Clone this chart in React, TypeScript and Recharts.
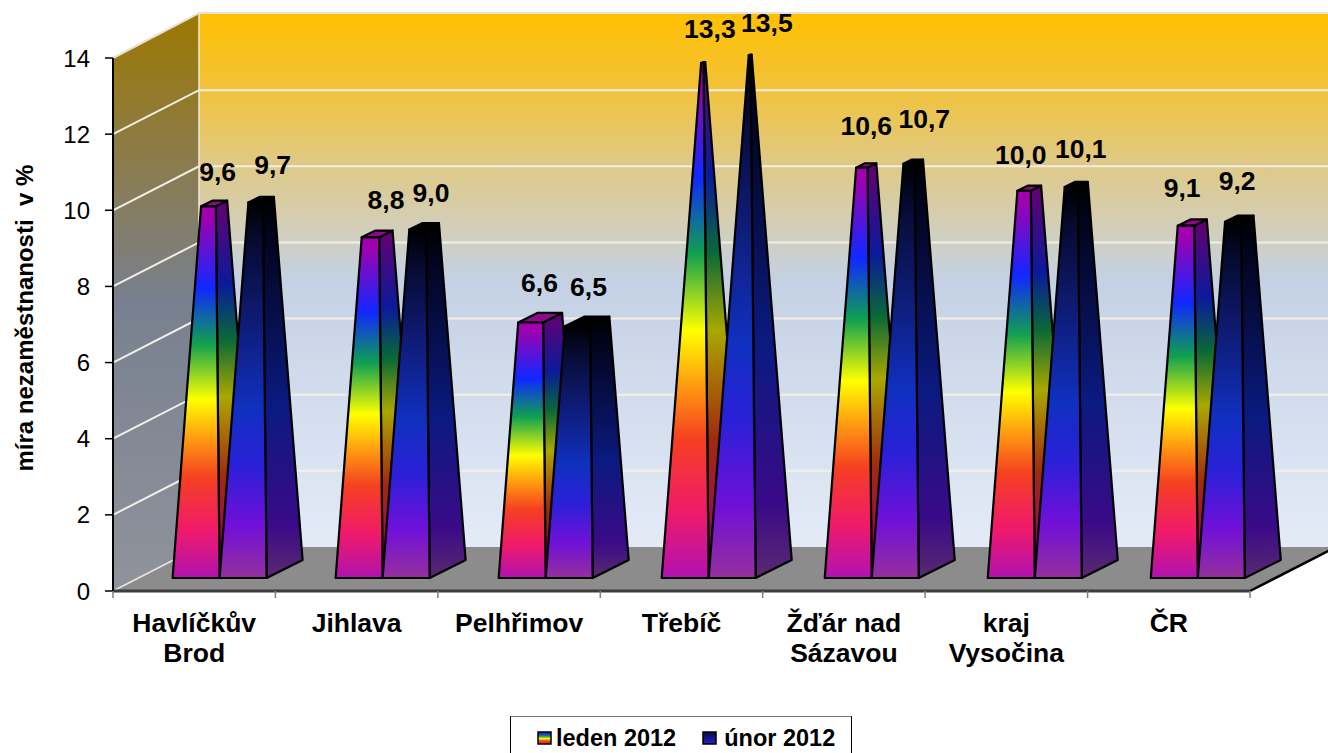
import { BarChart, Bar, XAxis, YAxis, Legend, LabelList, Label } from "recharts";

const categories = ["Havlíčkův\nBrod", "Jihlava", "Pelhřimov", "Třebíč", "Žďár nad\nSázavou", "kraj\nVysočina", "ČR"];
const leden = [9.6, 8.8, 6.6, 13.3, 10.6, 10.0, 9.1];
const unor = [9.7, 9.0, 6.5, 13.5, 10.7, 10.1, 9.2];
const yTicks = [0, 2, 4, 6, 8, 10, 12, 14];
const seriesNames = ["leden 2012", "únor 2012"];

const data = categories.map((name, i) => ({ name, leden: leden[i], unor: unor[i] }));

const W = 1328;
const H = 753;
const left = 113;
const top = 58;
const plotW = 1137;
const plotH = 533;
const yMax = 14;
// 3D box offsets
const depthX = 86;
const depthY = 44;
// bars stand a bit behind the front edge of the floor, pyramid depth is smaller
const floorX = 25.5;
const floorY = 13;
const barDX = 36;
const barDY = 18;
// back rows come out slightly wider spaced than the axis bands
const drift = 0.6;

// the labels were dragged by hand in the original
const ledenNudge = [[1, 2], [7, 0], [-2, -1], [6, 0], [0, -5], [-8, 1], [-9, -1]];
const unorNudge = [[0, 0], [-4, 2], [-9, 0], [7, 3], [2, -8], [-4, 0], [-10, -3]];

const font = "'Liberation Sans', Arial, sans-serif";

function stops(list: [number, string][]) {
  return list.map(([o, c]) => <stop key={o} offset={o} stopColor={c} />);
}

function grad(id: string, list: [number, string][]) {
  return (
    <linearGradient id={id} x1="0" y1="1" x2="0" y2="0">
      {stops(list)}
    </linearGradient>
  );
}

function Defs() {
  return (
    <defs>
      {grad("ledenFront", [[0, "#b012b0"], [0.13, "#f01a6a"], [0.27, "#f54020"], [0.38, "#ffa010"], [0.48, "#ffff00"], [0.63, "#10a050"], [0.78, "#1028ff"], [0.97, "#a000b0"], [1, "#a000b0"]])}
      {grad("ledenSide", [[0, "#701070"], [0.13, "#a01040"], [0.27, "#a02a10"], [0.38, "#a86a08"], [0.48, "#a8a800"], [0.63, "#0a6a36"], [0.78, "#0a1a9c"], [1, "#660070"]])}
      {grad("unorFront", [[0, "#95309c"], [0.14, "#7010d8"], [0.3, "#2a20d8"], [0.45, "#1030c0"], [0.7, "#0e1a70"], [0.9, "#060a30"], [1, "#000000"]])}
      {grad("unorSide", [[0, "#5a2a70"], [0.14, "#3a0a88"], [0.45, "#0a1a80"], [0.7, "#060e48"], [0.9, "#02041c"], [1, "#000000"]])}
      <linearGradient id="backWall" x1="0" y1="0" x2="0" y2="1">
        {stops([[0, "#ffc000"], [0.14, "#f2c23a"], [0.28, "#dfc985"], [0.42, "#d0cfc0"], [0.5, "#c4d1e4"], [1, "#e4ebf7"]])}
      </linearGradient>
      <linearGradient id="sideWall" x1="0" y1="0" x2="0" y2="1">
        {stops([[0, "#9c7800"], [0.27, "#8a7c50"], [0.5, "#78808f"], [1, "#90939b"]])}
      </linearGradient>
    </defs>
  );
}

function Walls() {
  const x0 = left;
  const y0 = top + plotH;
  const x1 = left + plotW;
  return (
    <g>
      <polygon points={`${x0},${top} ${x0 + depthX},${top - depthY - 1} ${x0 + depthX},${y0 - depthY} ${x0},${y0}`} fill="url(#sideWall)" />
      <rect x={x0 + depthX} y={top - depthY - 1} width={plotW} height={plotH + 1} fill="url(#backWall)" />
      {yTicks.slice(1, -1).map((t) => {
        const y = y0 - (t / yMax) * plotH;
        return (
          <polyline
            key={t}
            points={`${x0},${y} ${x0 + depthX},${y - depthY} ${x1 + depthX},${y - depthY}`}
            fill="none"
            stroke="#f2efe6"
            strokeWidth={2}
          />
        );
      })}
      <polygon points={`${x0},${y0} ${x0 + depthX},${y0 - depthY} ${x1 + depthX},${y0 - depthY} ${x1},${y0}`} fill="#8c8c8c" />
      <polyline points={`${x0},${top} ${x0 + depthX},${top - depthY - 1} ${x1 + depthX},${top - depthY - 1}`} fill="none" stroke="#e6e2d8" strokeWidth={2} />
      <line x1={x0 + depthX} y1={top - depthY} x2={x0 + depthX} y2={y0 - depthY} stroke="#ece8e0" strokeWidth={1.5} />
      <line x1={x0} y1={y0} x2={x0 + depthX} y2={y0 - depthY} stroke="#e6e6e0" strokeWidth={1.5} />
      <line x1={x1} y1={y0} x2={x1 + depthX} y2={y0 - depthY} stroke="#000" strokeWidth={2.5} />
    </g>
  );
}

// truncated pyramid, the apex would sit at the axis maximum
function pyramid(series: string, topFill: string) {
  return (props: any) => {
    const { x, y, width, height, index } = props;
    const x0 = x + floorX + index * drift;
    const x1 = x0 + width;
    const yb = y + height - floorY;
    const cx = (x0 + x1) / 2 + barDX / 2;
    const cyBase = yb - barDY / 2;
    const s = 1 - height / plotH;
    const cy = cyBase - height;
    const px = (dx: number, dy: number) => `${cx + s * dx},${cy + s * dy}`;
    const hw = width / 2;
    const fl = px(-hw - barDX / 2, barDY / 2);
    const fr = px(hw - barDX / 2, barDY / 2);
    const br = px(hw + barDX / 2, -barDY / 2);
    const bl = px(-hw + barDX / 2, -barDY / 2);
    const common = { stroke: "#000", strokeWidth: 2.2, strokeLinejoin: "round" as const };
    return (
      <g>
        <polygon points={`${x1},${yb} ${x1 + barDX},${yb - barDY} ${br} ${fr}`} fill={`url(#${series}Side)`} {...common} />
        <polygon points={`${fl} ${fr} ${br} ${bl}`} fill={topFill} {...common} />
        <polygon points={`${x0},${yb} ${x1},${yb} ${fr} ${fl}`} fill={`url(#${series}Front)`} {...common} />
      </g>
    );
  };
}

function valueLabel(dx: number, dy: number, nudge: number[][]) {
  return (props: any) => {
    const { x, y, width, value, index } = props;
    const [nx, ny] = nudge[index] ?? [0, 0];
    return (
      <text x={x + width / 2 + dx + nx} y={y + dy + ny} textAnchor="middle" dominantBaseline="central" fontFamily={font} fontWeight="bold" fontSize={26.5} fill="#000">
        {Number(value).toFixed(1).replace(".", ",")}
      </text>
    );
  };
}

function CategoryTick(props: any) {
  const { x, y, payload, index } = props;
  const band = plotW / categories.length;
  const lines = String(payload.value).split("\n");
  return (
    <g>
      <line x1={x - band / 2} y1={y - 8} x2={x - band / 2} y2={y - 1} stroke="#808080" strokeWidth={1.5} />
      {index === categories.length - 1 && <line x1={x + band / 2} y1={y - 8} x2={x + band / 2} y2={y - 1} stroke="#808080" strokeWidth={1.5} />}
      {lines.map((t, i) => (
        <text key={t} x={x} y={y + 33 + i * 30} textAnchor="middle" fontFamily={font} fontWeight="bold" fontSize={26.5} fill="#000">
          {t}
        </text>
      ))}
    </g>
  );
}

function Swatch({ id }: { id: string }) {
  return (
    <svg width={15} height={14} style={{ display: "block" }}>
      <defs>
        {id === "a"
          ? grad("legA", [[0, "#f01a6a"], [0.25, "#f54020"], [0.45, "#ffff00"], [0.65, "#10a050"], [0.85, "#1028ff"], [1, "#a000b0"]])
          : grad("legB", [[0, "#2a20c0"], [0.5, "#101a90"], [1, "#060a30"]])}
      </defs>
      <rect x={1} y={1} width={13} height={12} fill={id === "a" ? "url(#legA)" : "url(#legB)"} stroke="#000" strokeWidth={1.5} />
    </svg>
  );
}

function LegendBox() {
  return (
    <div
      style={{
        boxSizing: "border-box",
        width: 342,
        height: 44,
        border: "1.5px solid #000",
        borderTopColor: "#777",
        background: "#fff",
        display: "flex",
        alignItems: "center",
        fontFamily: font,
        fontWeight: "bold",
        fontSize: 23.5,
        paddingLeft: 26,
        color: "#000",
        whiteSpace: "nowrap",
      }}
    >
      <Swatch id="a" />
      <span style={{ marginLeft: 4, marginRight: 26 }}>{seriesNames[0]}</span>
      <Swatch id="b" />
      <span style={{ marginLeft: 7 }}>{seriesNames[1]}</span>
    </div>
  );
}

export default function App() {
  return (
    <div style={{ position: "absolute", left: 0, top: 0, width: W, height: H, overflow: "hidden", background: "#fff" }}>
      <BarChart
        width={W}
        height={H}
        data={data}
        margin={{ top, left: 0, right: W - left - plotW, bottom: 62 }}
        barCategoryGap="21%"
        barGap={0}
      >
        <Defs />
        <Walls />
        <XAxis
          dataKey="name"
          height={100}
          interval={0}
          axisLine={{ stroke: "#3c3c3c", strokeWidth: 3 }}
          tickLine={false}
          tick={CategoryTick}
        />
        <YAxis
          width={left}
          domain={[0, yMax]}
          ticks={yTicks}
          interval={0}
          axisLine={{ stroke: "#000", strokeWidth: 2 }}
          tickLine={{ stroke: "#000", strokeWidth: 1.5 }}
          tickSize={8}
          tick={{ fill: "#000", fontFamily: font, fontSize: 24, dx: -13 }}
        >
          <Label value={"míra nezaměstnanosti\u00a0\u00a0v %"} angle={-90} position="insideLeft" dx={19} dy={147} style={{ fontFamily: font, fontWeight: "bold", fontSize: 24, fill: "#000" }} />
        </YAxis>
        <Legend
          layout="horizontal"
          verticalAlign="middle"
          align="center"
          wrapperStyle={{ position: "absolute", left: 510, top: 716, width: 342, height: 44, margin: 0 }}
          content={<LegendBox />}
        />
        <Bar dataKey="leden" name={seriesNames[0]} isAnimationActive={false} shape={pyramid("leden", "#8a0a8a")}>
          <LabelList dataKey="leden" content={valueLabel(46, -56, ledenNudge)} />
        </Bar>
        <Bar dataKey="unor" name={seriesNames[1]} isAnimationActive={false} shape={pyramid("unor", "#000")}>
          <LabelList dataKey="unor" content={valueLabel(55, -57, unorNudge)} />
        </Bar>
      </BarChart>
    </div>
  );
}
